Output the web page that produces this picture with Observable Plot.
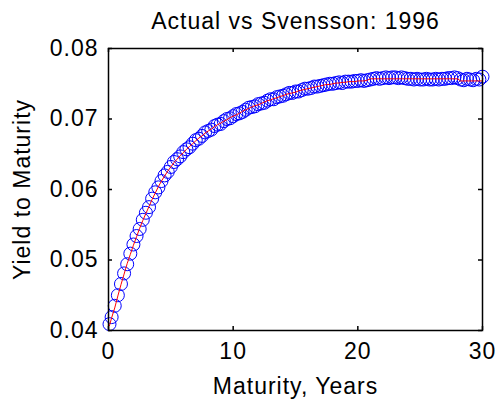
<!DOCTYPE html>
<html><head><meta charset="utf-8">
<script src="https://cdn.jsdelivr.net/npm/d3@7"></script>
<script src="https://cdn.jsdelivr.net/npm/@observablehq/plot@0.6"></script>
<style>body{margin:0;background:#fff;}</style>
</head><body><div id="chart"></div>
<script>
const maturity = [0.08,
  0.25, 0.5, 0.75, 1, 1.25, 1.5, 1.75, 2, 2.25, 2.5, 2.75, 3, 3.25, 3.5, 3.75, 4,
  4.25, 4.5, 4.75, 5, 5.25, 5.5, 5.75, 6, 6.25, 6.5, 6.75, 7, 7.25, 7.5, 7.75, 8,
  8.25, 8.5, 8.75, 9, 9.25, 9.5, 9.75, 10, 10.25, 10.5, 10.75, 11, 11.25, 11.5, 11.75, 12,
  12.25, 12.5, 12.75, 13, 13.25, 13.5, 13.75, 14, 14.25, 14.5, 14.75, 15, 15.25, 15.5, 15.75, 16,
  16.25, 16.5, 16.75, 17, 17.25, 17.5, 17.75, 18, 18.25, 18.5, 18.75, 19, 19.25, 19.5, 19.75, 20,
  20.25, 20.5, 20.75, 21, 21.25, 21.5, 21.75, 22, 22.25, 22.5, 22.75, 23, 23.25, 23.5, 23.75, 24,
  24.25, 24.5, 24.75, 25, 25.25, 25.5, 25.75, 26, 26.25, 26.5, 26.75, 27, 27.25, 27.5, 27.75, 28,
  28.25, 28.5, 28.75, 29, 29.25, 29.5, 29.75, 30];

const actualYield = [0.0409,
  0.0419, 0.0435, 0.0450, 0.0466, 0.0481, 0.0494, 0.0509, 0.0522, 0.0534, 0.0544, 0.0557, 0.0567, 0.0575, 0.0587, 0.0596, 0.0603,
  0.0612, 0.0620, 0.0625, 0.0632, 0.0639, 0.0643, 0.0647, 0.0653, 0.0657, 0.0660, 0.0665, 0.0670, 0.0672, 0.0676, 0.0681, 0.0683,
  0.0685, 0.0690, 0.0692, 0.0693, 0.0697, 0.0700, 0.0701, 0.0704, 0.0707, 0.0708, 0.0710, 0.0713, 0.0716, 0.0717, 0.0718, 0.0721,
  0.0722, 0.0723, 0.0726, 0.0728, 0.0728, 0.0731, 0.0732, 0.0733, 0.0735, 0.0737, 0.0737, 0.0739, 0.0739, 0.0741, 0.0743, 0.0743,
  0.0744, 0.0746, 0.0746, 0.0747, 0.0748, 0.0749, 0.0750, 0.0750, 0.0751, 0.0752, 0.0751, 0.0753, 0.0753, 0.0753, 0.0754, 0.0754,
  0.0755, 0.0754, 0.0755, 0.0756, 0.0757, 0.0758, 0.0757, 0.0758, 0.0759, 0.0758, 0.0759, 0.0759, 0.0758, 0.0759, 0.0758, 0.0757,
  0.0757, 0.0756, 0.0757, 0.0756, 0.0756, 0.0757, 0.0756, 0.0756, 0.0757, 0.0756, 0.0757, 0.0757, 0.0758, 0.0758, 0.0759, 0.0758,
  0.0756, 0.0755, 0.0757, 0.0756, 0.0755, 0.0757, 0.0756, 0.0760];

const svenssonYield = [0.0407,
  0.0418, 0.0432, 0.0449, 0.0465, 0.0480, 0.0495, 0.0508, 0.0521, 0.0533, 0.0545, 0.0556, 0.0566, 0.0576, 0.0586, 0.0595, 0.0604,
  0.0612, 0.0619, 0.0626, 0.0632, 0.0638, 0.0643, 0.0648, 0.0652, 0.0657, 0.0661, 0.0665, 0.0669, 0.0673, 0.0676, 0.0680, 0.0683,
  0.0686, 0.0689, 0.0692, 0.0694, 0.0697, 0.0699, 0.0702, 0.0704, 0.0706, 0.0708, 0.0711, 0.0713, 0.0715, 0.0717, 0.0719, 0.0720,
  0.0722, 0.0724, 0.0726, 0.0727, 0.0729, 0.0730, 0.0732, 0.0733, 0.0735, 0.0736, 0.0737, 0.0738, 0.0740, 0.0741, 0.0742, 0.0743,
  0.0744, 0.0745, 0.0746, 0.0747, 0.0748, 0.0749, 0.0749, 0.0750, 0.0751, 0.0751, 0.0752, 0.0752, 0.0753, 0.0753, 0.0753, 0.0754,
  0.0754, 0.0754, 0.0755, 0.0757, 0.0757, 0.0757, 0.0757, 0.0757, 0.0757, 0.0757, 0.0757, 0.0757, 0.0757, 0.0757, 0.0757, 0.0757,
  0.0757, 0.0757, 0.0757, 0.0757, 0.0757, 0.0757, 0.0757, 0.0757, 0.0757, 0.0757, 0.0757, 0.0757, 0.0757, 0.0757, 0.0757, 0.0757,
  0.0754, 0.0754, 0.0754, 0.0754, 0.0754, 0.0754, 0.0754, 0.0754];

const xTicks = [0, 10, 20, 30];
const yTicks = [0.04, 0.05, 0.06, 0.07, 0.08];
const titleText = "Actual vs Svensson: 1996";
const xLabel = "Maturity, Years";
const yLabel = "Yield to Maturity";

const data = maturity.map((m, i) => ({m, actual: actualYield[i], fit: svenssonYield[i]}));

const chart = Plot.plot({
  width: 500, height: 404,
  marginLeft: 108, marginRight: 18, marginTop: 48, marginBottom: 74,
  style: {fontFamily: "'Liberation Sans', Arial, sans-serif", fontSize: "23px", letterSpacing: "1px", color: "#000", background: "#fff", overflow: "visible"},
  x: {domain: [0, 30]},
  y: {domain: [0.04, 0.08]},
  marks: [
    Plot.dot(data, {x: "m", y: "actual", r: 6.5, stroke: "#0000ff", strokeWidth: 1, fill: "none"}),
    Plot.line(data, {x: "m", y: "fit", stroke: "#ff0000", strokeWidth: 1}),
    Plot.frame({stroke: "#000", strokeWidth: 1.5}),
    Plot.tickX(xTicks, {x: d => d, insetTop: 278, stroke: "#000", strokeWidth: 1.5}),
    Plot.tickX(xTicks, {x: d => d, insetBottom: 278, stroke: "#000", strokeWidth: 1.5}),
    Plot.tickY(yTicks, {y: d => d, insetRight: 370, stroke: "#000", strokeWidth: 1.5}),
    Plot.tickY(yTicks, {y: d => d, insetLeft: 370, stroke: "#000", strokeWidth: 1.5}),
    Plot.axisX(xTicks, {tickSize: 0, tickPadding: 12, label: null, fontSize: 23}),
    Plot.axisY(yTicks, {tickSize: 0, tickPadding: 10, tickFormat: d3.format(".2f"), label: null, fontSize: 23}),
    Plot.text([titleText], {text: d => d, frameAnchor: "top", dy: -27, lineAnchor: "middle", textAnchor: "middle", fontSize: 23}),
    Plot.text([xLabel], {text: d => d, frameAnchor: "bottom", dy: 56, lineAnchor: "middle", textAnchor: "middle", fontSize: 23}),
    Plot.text([yLabel], {text: d => d, frameAnchor: "left", dx: -86, rotate: -90, lineAnchor: "middle", textAnchor: "middle", fontSize: 23})
  ]
});
document.getElementById("chart").append(chart);
</script>
</body></html>
